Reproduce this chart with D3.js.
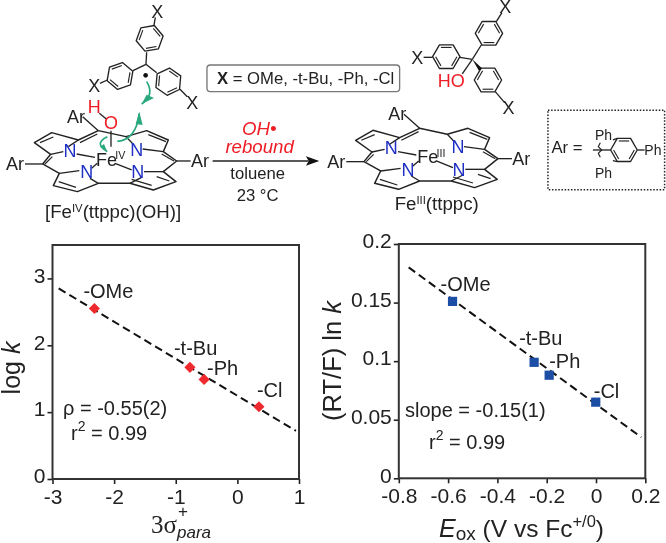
<!DOCTYPE html>
<html><head><meta charset="utf-8">
<script src="https://cdn.jsdelivr.net/npm/d3@7/dist/d3.min.js"></script>
<style>
html,body{margin:0;padding:0;background:#fff}
svg{display:block;filter:blur(.35px)}
text{font-family:"Liberation Sans",Arial,sans-serif;fill:#222}
</style></head><body>
<svg id="c" width="666" height="543"></svg>
<script>
// ---- chart data
const substituents = ["-OMe","-t-Bu","-Ph","-Cl"];
const sigmaValues = [-2.32,-0.77,-0.54,0.35];
const logKValues = [2.55,1.67,1.49,1.08];
const sigmaFitX = [-2.9,0.95];
const sigmaFitY = [2.85,0.72];
const sigmaTicks = [-3,-2,-1,0,1];
const logKTicks = [0,1,2,3];
const eoxValues = [-0.582,-0.251,-0.19,-0.001];
const rtfValues = [0.151,0.099,0.088,0.065];
const eoxFitX = [-0.76,0.184];
const eoxFitY = [0.18,0.035];
const eoxTicks = [-0.8,-0.6,-0.4,-0.2,0,0.2];
const rtfTicks = [0,0.05,0.1,0.15,0.2];

const svg = d3.select("#c");
const INK="#222", RED="#ee1c25", BLUE_N="#1f2fc4", GREEN="#2aa87e";

// ---- plots
function plot(o){
  const x=d3.scaleLinear().domain(o.xd).range([o.l,o.r]);
  const y=d3.scaleLinear().domain(o.yd).range([o.b,o.t]);
  const g=svg.append("g");
  const ax=g.append("g").attr("transform",`translate(0,${o.b})`)
    .call(d3.axisBottom(x).tickValues(o.xt).tickSize(5).tickPadding(5).tickFormat(d=>String(d)));
  const ay=g.append("g").attr("transform",`translate(${o.l},0)`)
    .call(d3.axisLeft(y).tickValues(o.yt).tickSize(5).tickPadding(2).tickFormat(d=>String(d)));
  [ax,ay].forEach(a=>{
    a.select(".domain").remove();
    a.selectAll("line").attr("stroke",INK).attr("stroke-width",1.6);
    a.selectAll("text").attr("font-size",21).attr("font-family",'"Liberation Sans"').attr("fill",INK);
  });
  ay.selectAll("text").attr("dy","0.18em");
  g.append("rect").attr("x",o.l).attr("y",o.t).attr("width",o.r-o.l).attr("height",o.b-o.t)
    .attr("fill","none").attr("stroke","#333").attr("stroke-width",2);
  g.append("line").attr("x1",x(o.fx[0])).attr("y1",y(o.fy[0])).attr("x2",x(o.fx[1])).attr("y2",y(o.fy[1]))
    .attr("stroke","#111").attr("stroke-width",2).attr("stroke-dasharray","8,4.5");
  o.xs.forEach((v,i)=>{
    g.append("path").attr("d",d3.symbol().type(d3.symbolSquare).size(o.size)())
     .attr("transform",`translate(${x(v)},${y(o.ys[i])}) rotate(${o.rot})`).attr("fill",o.color);
    g.append("text").attr("x",x(v)+o.dx[i]).attr("y",y(o.ys[i])+o.dy[i]).attr("font-size",20).text(substituents[i]);
  });
  return g;
}
plot({l:52.5,r:299,t:245,b:479,xd:[-3,1],yd:[0,3.5],xt:sigmaTicks,yt:logKTicks,
  fx:sigmaFitX,fy:sigmaFitY,xs:sigmaValues,ys:logKValues,color:"#ee2a2e",size:62,rot:45,
  dx:[-11,-16,3,-2],dy:[-11,-12,-4,-10]});
plot({l:398.8,r:645.3,t:244,b:478.3,xd:[-0.8,0.2],yd:[0,0.2],xt:eoxTicks,yt:rtfTicks,
  fx:eoxFitX,fy:eoxFitY,xs:eoxValues,ys:rtfValues,color:"#1d4ea6",size:85,rot:0,
  dx:[-12,-15,0,-2],dy:[-10,-17,-7,-4.5]});

function label(parent,x,y,segs,attrs={}){
  const t=parent.append("text").attr("x",x).attr("y",y);
  Object.entries(attrs).forEach(([k,v])=>t.attr(k,v));
  segs.forEach(s=>{
    const sp=t.append("tspan").text(s.t);
    if(s.dy)sp.attr("dy",s.dy);
    if(s.fs)sp.attr("font-size",s.fs);
    if(s.st)sp.attr("font-style",s.st);
    if(s.ff)sp.style("font-family",s.ff);
    if(s.w)sp.attr("font-weight",s.w);
  });
  return t;
}
label(svg,63,415,[{t:"ρ = -0.55(2)"}],{"font-size":20});
label(svg,71,440,[{t:"r"},{t:"2",fs:14,dy:-9},{t:" = 0.99",dy:9}],{"font-size":20});
label(svg,405,417,[{t:"slope = -0.15(1)"}],{"font-size":20});
label(svg,429,449,[{t:"r"},{t:"2",fs:14,dy:-9},{t:" = 0.99",dy:9}],{"font-size":20});

label(svg,0,0,[{t:"log "},{t:"k",st:"italic"}],{"font-size":25,"text-anchor":"middle",transform:"translate(20,368) rotate(-90)"});
label(svg,0,0,[{t:"(RT/F) ln "},{t:"k",st:"italic"}],{"font-size":25.5,"text-anchor":"middle",transform:"translate(341,361) rotate(-90)"});
label(svg,151,533,[{t:"3σ",ff:'"Liberation Serif"',fs:25},{t:"para",st:"italic",fs:17,dy:5}]);
label(svg,178,517,[{t:"+",fs:17}]);
label(svg,439,537,[{t:"E",st:"italic",fs:25},{t:"ox",fs:19,dy:3},{t:" (V vs Fc",fs:24.5,dy:-3},{t:"+/0",fs:16.5,dy:-10},{t:")",fs:24.5,dy:10}]);

// ---- reaction scheme, drawn in 3x units
const s=svg.append("g").attr("transform","scale(0.3333)");
const ln=d3.line();
function poly(par,pts,w=4.2,c=INK,close=false){
  par.append("path").attr("d",ln(pts)+(close?"Z":"")).attr("fill","none").attr("stroke",c).attr("stroke-width",w).attr("stroke-linejoin","round");
}
function txt(par,x,y,str,fs,c=INK,anchor="middle",extra={}){
  const t=par.append("text").attr("x",x).attr("y",y).attr("font-size",fs).attr("text-anchor",anchor).style("fill",c).text(str);
  Object.entries(extra).forEach(([k,v])=>t.attr(k,v));
  return t;
}
function ring(par,cx,cy,r,angle){
  const v=d3.range(6).map(i=>{const a=(angle+60*i)*Math.PI/180;return [cx+r*Math.cos(a),cy+r*Math.sin(a)];});
  poly(par,v,4,INK,true);
  [0,2,4].forEach(i=>{
    const a=v[i],b=v[(i+1)%6],k=0.78;
    const p=q=>[cx+(q[0]-cx)*k,cy+(q[1]-cy)*k];
    poly(par,[p(a),p(b)],3.4);
  });
}
function porphyrin(dx,dy,metalSup){
  const g=s.append("g").attr("transform",`translate(${dx},${dy})`);
  const skeleton=[[295,392],[235,420],[155,398],[103,428],[152,463],[128,492],[178,520],[160,557],[232,575],[295,550],[390,550],[460,570],[528,545],[490,515],[530,483],[490,455],[505,420],[440,392],[378,410],[295,392]];
  poly(g,skeleton,4.4);
  [[[240,428],[292,402]],[[160,411],[120,428]],[[157,470],[135,492]],[[176,545],[228,562]],[[395,538],[455,556]],[[470,530],[508,543]],[[485,462],[522,483]],[[498,425],[445,404]]].forEach(b=>poly(g,b,3.6));
  [[[235,420],[205,440]],[[152,463],[190,455]],[[230,462],[285,472]],[[178,520],[238,512]],[[295,550],[270,535]],[[275,505],[292,490]],[[345,490],[395,510]],[[425,532],[390,550]],[[432,515],[490,515]],[[428,447],[490,455]],[[397,430],[378,410]],
   [[75,492],[128,492]],[[530,483],[572,483]],[[248,350],[295,392]]].forEach(b=>poly(g,b,4));
  txt(g,210,470,"N",54,BLUE_N);txt(g,410,467,"N",54,BLUE_N);txt(g,260,535,"N",54,BLUE_N);txt(g,413,535,"N",54,BLUE_N);
  txt(g,288,497,"Fe",54,INK,"start");
  txt(g,346,477,metalSup,32,INK,"start");
  txt(g,45,510,"Ar",54);txt(g,600,502,"Ar",54);txt(g,228,368,"Ar",54);
  return g;
}
porphyrin(0,0,"IV");
porphyrin(964,-7,"III");

// iron-hydroxide
poly(s,[[298,340],[320,358]],4);
poly(s,[[333,392],[333,440]],4);
txt(s,283,340,"H",54,RED);
txt(s,333,388,"O",54,RED);

// trityl radical
ring(s,449,115,41,-70);
ring(s,360,228,41,-20);
ring(s,505,245,41,35);
poly(s,[[438,193],[440,157]],4);poly(s,[[438,193],[399,212]],4);poly(s,[[438,193],[470,218]],4);
poly(s,[[462,76],[466,52]],4);poly(s,[[322,240],[300,250]],4);poly(s,[[540,268],[562,290]],4);
txt(s,472,55,"X",54);txt(s,283,275,"X",54);txt(s,577,327,"X",54);
s.append("circle").attr("cx",437).attr("cy",226).attr("r",7).attr("fill","#111");

// curved arrows
[["M440,245 Q465,285 425,312",[[425,312],[462,294],[440,284]]],
 ["M352,424 Q408,420 418,340",[[418,335],[428,375],[407,372]]],
 ["M322,455 Q280,430 322,410",[[322,455],[300,440],[312,432]]]].forEach(a=>{
  s.append("path").attr("d",a[0]).attr("fill","none").attr("stroke",GREEN).attr("stroke-width",5);
  s.append("path").attr("d",ln(a[1])+"Z").attr("fill",GREEN);
});

// X box
s.append("rect").attr("x",621).attr("y",195).attr("width",578).attr("height",80).attr("rx",10)
  .attr("fill","#fff").attr("stroke","#777").attr("stroke-width",4);
label(s,651,253,[{t:"X",w:"bold"},{t:" = OMe, -t-Bu, -Ph, -Cl"}],{"font-size":50});

// reaction arrow and conditions
poly(s,[[638,483],[925,483]],4.2);
s.append("path").attr("d",ln([[958,483],[918,469],[926,483],[918,497]])+"Z").attr("fill","#111");
txt(s,778,405,"OH•",56,RED,"middle",{"font-style":"italic"});
txt(s,779,460,"rebound",56,RED,"middle",{"font-style":"italic"});
txt(s,773,536,"toluene",50);
txt(s,773,602,"23 °C",50);

// captions
label(s,135,655,[{t:"[Fe"},{t:"IV",fs:34,dy:-18},{t:"(ttppc)(OH)]",dy:18}],{"font-size":56});
label(s,1184,630,[{t:"Fe"},{t:"III",fs:34,dy:-18},{t:"(ttppc)",dy:18}],{"font-size":56});

// triarylmethanol
const pr=s.append("g").attr("transform","translate(999,0)");
ring(pr,340,170,41,0);ring(pr,468,100,41,-60);ring(pr,465,240,41,60);
poly(pr,[[381,172],[418,178]],4);poly(pr,[[418,178],[388,222]],4);
poly(pr,[[418,178],[445,135]],4);
pr.append("path").attr("d",ln([[418,178],[438,212],[447,205]])+"Z").attr("fill","#111");
poly(pr,[[299,172],[272,172]],4);poly(pr,[[490,65],[507,38]],4);poly(pr,[[487,275],[515,308]],4);
txt(pr,253,191,"X",54);txt(pr,517,38,"X",54);txt(pr,527,342,"X",54);
txt(pr,355,261,"HO",54,RED);

// Ar definition box
pr.append("rect").attr("x",645).attr("y",331).attr("width",350).attr("height",238)
  .attr("fill","none").attr("stroke","#222").attr("stroke-width",4.5).attr("stroke-dasharray","4.5,5");
txt(pr,702,458,"Ar =",50);
ring(pr,873,450,40,0);
poly(pr,[[780,450],[833,450]],4);
poly(pr,[[802,428],[796,440],[806,450],[796,460],[802,472]],3.5);
poly(pr,[[853,415],[840,420]],4);poly(pr,[[853,485],[840,482]],4);poly(pr,[[913,450],[935,450]],4);
txt(pr,812,420,"Ph",42);txt(pr,812,533,"Ph",42);txt(pr,960,465,"Ph",42);
</script>
</body></html>
